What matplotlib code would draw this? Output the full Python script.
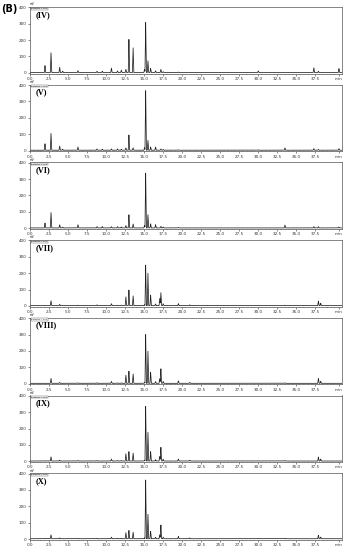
import numpy as np
import matplotlib.pyplot as plt

# retention times (min) of the peaks
rt = [1.97, 2.76, 3.9, 4.3, 6.3, 8.8, 9.5, 10.7, 11.5, 12.0, 12.6, 13.0, 13.55,
      15.05, 15.2, 15.5, 15.85, 16.5, 17.05, 17.2, 17.5, 19.5, 21.0, 30.0,
      33.5, 37.3, 37.9, 38.2, 40.6]

# peak heights (mV) for each sample, same order as rt
h_IV = [43, 122, 33, 8, 12, 8, 8, 28, 10, 15, 20, 204, 155,
        20, 306, 72, 25, 10, 0, 20, 5, 3, 0, 10,
        0, 30, 8, 0, 25]
h_V = [40, 104, 26, 6, 20, 8, 6, 8, 8, 6, 15, 94, 15,
       15, 364, 60, 20, 20, 0, 8, 5, 3, 0, 3,
       15, 10, 5, 0, 10]
h_VI = [30, 95, 20, 5, 20, 8, 8, 8, 8, 6, 15, 81, 25,
        15, 335, 81, 25, 20, 0, 10, 6, 3, 0, 0,
        18, 8, 8, 0, 6]
h_VII = [0, 30, 8, 0, 3, 5, 0, 12, 3, 3, 55, 96, 61,
         5, 248, 199, 65, 10, 45, 81, 12, 12, 5, 0,
         3, 0, 28, 15, 0]
h_VIII = [0, 30, 6, 0, 3, 4, 0, 12, 3, 3, 51, 75, 59,
          5, 298, 197, 69, 10, 30, 91, 12, 15, 6, 0,
          3, 0, 30, 12, 0]
h_IX = [0, 26, 5, 0, 3, 3, 0, 12, 3, 3, 46, 58, 50,
        5, 334, 176, 58, 8, 30, 86, 12, 12, 5, 0,
        3, 0, 25, 12, 0]
h_X = [0, 24, 5, 0, 3, 3, 0, 10, 3, 3, 38, 51, 41,
       5, 359, 150, 45, 8, 25, 86, 10, 14, 5, 0,
       3, 0, 22, 10, 0]

labels = ['(IV)', '(V)', '(VI)', '(VII)', '(VIII)', '(IX)', '(X)']
heights = [h_IV, h_V, h_VI, h_VII, h_VIII, h_IX, h_X]

xticks = [0.0, 2.5, 5.0, 7.5, 10.0, 12.5, 15.0, 17.5, 20.0, 22.5, 25.0,
          27.5, 30.0, 32.5, 35.0, 37.5]
yticks = [0, 100, 200, 300, 400]
baseline = 2
peak_w = 0.09

W, H = 346, 550
fig = plt.figure(figsize=(W / 100, H / 100), dpi=100)

left, right = 30, 342
top0, ax_h, step = 7, 66.5, 77.7

x = np.linspace(0, 41, 6000)
for i, (lab, hs) in enumerate(zip(labels, heights)):
    top = top0 + i * step
    ax = fig.add_axes([left / W, 1 - (top + ax_h) / H, (right - left) / W, ax_h / H])

    # build the trace from the peak list
    y = np.full_like(x, baseline, dtype=float)
    for r, hh in zip(rt, hs):
        if hh > 0:
            y += hh * np.clip(1 - np.abs(x - r) / peak_w, 0, None)
    ax.plot(x, y, color='#222222', lw=0.55)

    ax.set_xlim(0, 41)
    ax.set_ylim(-4, 402)
    ax.set_xticks(xticks + [40.6])
    ax.set_xticklabels([f'{t:.1f}' for t in xticks] + ['min'])
    ax.set_xticks(np.arange(0, 41, 0.5), minor=True)
    ax.set_yticks(yticks)
    ax.tick_params(labelsize=3, length=1.5, width=0.4, pad=1, colors='#333333')
    ax.tick_params(which='minor', length=1, width=0.3, color='#555555')
    for s in ax.spines.values():
        s.set_linewidth(0.5)
        s.set_color('#555555')

    ax.text(0.8, 355, lab, fontsize=6, fontweight='bold',
            family='Liberation Serif', va='center', ha='left')

    # little detector header at the top of the y axis
    ax.text(0.0, 1.01, 'mV', transform=ax.transAxes, fontsize=2,
            ha='left', va='bottom')
    ax.text(0.004, 0.975, 'Detector A Ch1', transform=ax.transAxes, fontsize=1.5,
            ha='left', va='center',
            bbox=dict(boxstyle='square,pad=0.2', fc='white', ec='#555555', lw=0.3))

fig.text(1 / W, 1 - 9 / H, '(B)', fontsize=7, fontweight='bold', va='center', ha='left')

fig.savefig('out.png', dpi=100)
